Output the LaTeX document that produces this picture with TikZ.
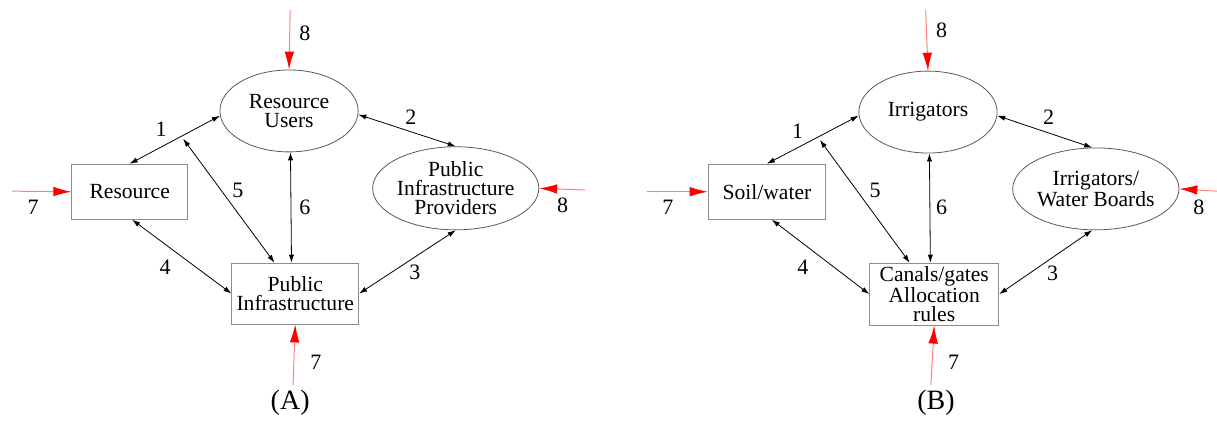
\documentclass[tikz,border=0pt]{standalone}
\usepackage{fontspec}
\setmainfont{Liberation Serif}
\usepackage{tikz}
\usetikzlibrary{shapes.geometric}
\usetikzlibrary{arrows.meta}
\usetikzlibrary{calc}

\begin{document}
\begin{tikzpicture}[>={Latex[length=4pt,width=2.6pt]}]
				\tikzstyle{boxnode}=[draw=black!45, rectangle, inner sep=0pt, align=center, font=\fontsize{10.8}{9.5}\selectfont]
				\tikzstyle{ellnode}=[draw=black!65, ellipse, inner sep=0pt, align=center, font=\fontsize{10.8}{9.5}\selectfont]
				\tikzstyle{numnode}=[inner sep=0pt, font=\fontsize{11}{10}\selectfont]
				\tikzstyle{link}=[<->, line width=0.4pt, black]
				\tikzstyle{input}=[-{Latex[length=9pt,width=4.8pt,color=red]}, line width=0.5pt, red!50]
				
				\useasboundingbox (0,0) rectangle (21.39,-7.40);
				
				% (A)
				\node (ruA) at (5.08,-1.95) [ellnode, minimum width=2.43cm, minimum height=1.44cm] {Resource\\Users};
				\node (resA) at (2.28,-3.37) [boxnode, minimum width=2.04cm, minimum height=0.97cm] {Resource};
				\node (pipA) at (8.01,-3.31) [ellnode, minimum width=2.43cm, minimum height=1.46cm] {Public\\Infrastructure\\Providers};
				\node (piA) at (5.19,-5.16) [boxnode, minimum width=2.23cm, minimum height=1.07cm] {Public\\Infrastructure};
				\coordinate (c5A) at (3.22,-2.44);
				
				\draw [link] (resA.north) -- (ruA.184);
				\draw [link] (ruA.357) -- (pipA.north);
				\draw [link] (piA.east) -- (pipA.south);
				\draw [link] (resA.-85) -- (piA.west);
				\draw [link] (c5A) -- (piA.124);
				\draw [link] (ruA.-88) -- (piA.97);
				
				\node (n1A) at (2.83,-2.28) [numnode] {1};
				\node (n2A) at (7.22,-2.06) [numnode] {2};
				\node (n3A) at (7.29,-4.78) [numnode] {3};
				\node (n4A) at (2.90,-4.69) [numnode] {4};
				\node (n5A) at (4.18,-3.34) [numnode] {5};
				\node (n6A) at (5.36,-3.64) [numnode] {6};
				
				\coordinate (tA) at (5.10,-0.18);
				\coordinate (lA) at (0.21,-3.36);
				\coordinate (rA) at (10.28,-3.34);
				\coordinate (bA) at (5.15,-6.77);
				\draw [input] (tA) -- (ruA.north);
				\draw [input] (lA) -- (resA.west);
				\draw [input] (rA) -- (pipA.east);
				\draw [input] (bA) -- (piA.south);
				\node (i8tA) at (5.36,-0.58) [numnode] {8};
				\node (i7lA) at (0.58,-3.64) [numnode] {7};
				\node (i8rA) at (9.89,-3.60) [numnode] {8};
				\node (i7bA) at (5.55,-6.36) [numnode] {7};
				\node (capA) at (5.10,-7.08) [font=\fontsize{14}{16}\selectfont] {(A)};
				
				% (B)
				\node (irrB) at (16.31,-1.97) [ellnode, minimum width=2.43cm, minimum height=1.44cm] {Irrigators};
				\node (soilB) at (13.48,-3.37) [boxnode, minimum width=2.07cm, minimum height=0.97cm] {Soil/water};
				\node (wbB) at (19.26,-3.32) [ellnode, minimum width=2.46cm, minimum height=1.44cm] {Irrigators/\\Water Boards};
				\node (canB) at (16.42,-5.17) [boxnode, minimum width=2.27cm, minimum height=1.09cm] {Canals/gates\\Allocation\\rules};
				\coordinate (c5B) at (14.41,-2.46);
				
				\draw [link] (soilB.north) -- (irrB.183);
				\draw [link] (irrB.357) -- (wbB.95);
				\draw [link] (canB.east) -- (wbB.265);
				\draw [link] (soilB.-80) -- (canB.west);
				\draw [link] (c5B) -- (canB.128);
				\draw [link] (irrB.-88) -- (canB.97);
				
				\node (n1B) at (14.02,-2.30) [numnode] {1};
				\node (n2B) at (18.43,-2.06) [numnode] {2};
				\node (n3B) at (18.50,-4.80) [numnode] {3};
				\node (n4B) at (14.11,-4.69) [numnode] {4};
				\node (n5B) at (15.38,-3.34) [numnode] {5};
				\node (n6B) at (16.55,-3.64) [numnode] {6};
				
				\coordinate (tB) at (16.27,-0.18);
				\coordinate (lB) at (11.37,-3.37);
				\coordinate (rB) at (21.39,-3.36);
				\coordinate (bB) at (16.36,-6.77);
				\draw [input] (tB) -- (irrB.north);
				\draw [input] (lB) -- (soilB.west);
				\draw [input] (rB) -- (wbB.east);
				\draw [input] (bB) -- (canB.south);
				\node (i8tB) at (16.55,-0.54) [numnode] {8};
				\node (i7lB) at (11.74,-3.64) [numnode] {7};
				\node (i8rB) at (21.07,-3.64) [numnode] {8};
				\node (i7bB) at (16.76,-6.36) [numnode] {7};
				\node (capB) at (16.45,-7.08) [font=\fontsize{14}{16}\selectfont] {(B)};
\end{tikzpicture}
\end{document}
